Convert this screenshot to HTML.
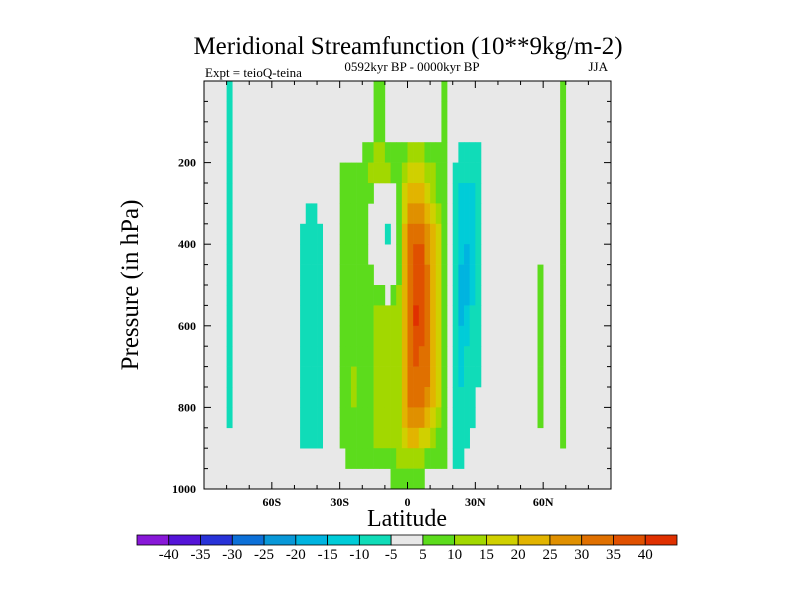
<!DOCTYPE html>
<html><head><meta charset="utf-8"><style>
body{margin:0;background:#fff;}
text{font-family:"Liberation Serif",serif;}
</style></head><body>
<svg id="chart" width="800" height="600" xmlns="http://www.w3.org/2000/svg">
<text x="408" y="54" font-size="25" text-anchor="middle">Meridional Streamfunction (10**9kg/m-2)</text>
<text x="205" y="77" font-size="13">Expt = teioQ-teina</text>
<text x="412" y="71" font-size="13" text-anchor="middle">0592kyr BP - 0000kyr BP</text>
<text x="608" y="71" font-size="13" text-anchor="end">JJA</text>
<rect x="204" y="81" width="407" height="408" fill="#e8e8e8"/>
<g id="cells"></g>
<g id="axes"></g>
<text transform="translate(138,285) rotate(-90)" font-size="25" text-anchor="middle">Pressure (in hPa)</text>
<text x="407" y="526" font-size="24" text-anchor="middle">Latitude</text>
<g id="cbar"></g>
</svg>
<script>
const yTicks=[200,400,600,800,1000];
const xTicks=[-60,-30,0,30,60];
const xTickLabels=["60S","30S","0","30N","60N"];
const levels=[-40,-35,-30,-25,-20,-15,-10,-5,5,10,15,20,25,30,35,40];
const colors=["#8818d8","#5414d8","#2832d8","#0c70d8","#0898d8","#00b4e0","#00ccd8","#10dcb8","#e8e8e8","#5cdc1c","#a2d800","#d0d000","#e2b400","#e09000","#e07000","#e05000","#e03000"];
const colLats=[-78.75,-46.25,-43.75,-41.25,-38.75,-28.75,-26.25,-23.75,-21.25,-18.75,-16.25,-13.75,-11.25,-8.75,-6.25,-3.75,-1.25,1.25,3.75,6.25,8.75,11.25,13.75,16.25,21.25,23.75,26.25,28.75,31.25,58.75,68.75];
// each column: 20 values at pressure cells 0-50,50-100,...,950-1000 hPa
const colVals=[
[-7,-7,-7,-7,-7,-7,-7,-7,-7,-7,-7,-7,-7,-7,-7,-7,-7,0,0,0],
[0,0,0,0,0,0,0,-7,-7,-7,-7,-7,-7,-7,-7,-7,-7,-7,0,0],
[0,0,0,0,0,0,-7,-7,-7,-7,-7,-7,-7,-7,-7,-7,-7,-7,0,0],
[0,0,0,0,0,0,-7,-7,-7,-7,-7,-7,-7,-7,-7,-7,-7,-7,0,0],
[0,0,0,0,0,0,0,-7,-7,-7,-7,-7,-7,-7,-7,-7,-7,-7,0,0],
[0,0,0,0,7,7,7,7,7,7,7,7,7,7,7,7,7,7,0,0],
[0,0,0,0,7,7,7,7,7,7,7,7,7,7,7,7,7,7,7,0],
[0,0,0,0,7,7,7,7,7,7,7,7,7,7,12,12,7,7,7,0],
[0,0,0,0,7,7,7,7,7,7,7,7,7,7,7,7,7,7,7,0],
[0,0,0,7,7,7,7,7,7,7,7,7,7,7,7,7,7,7,7,0],
[0,0,0,7,12,7,0,0,0,7,7,7,7,7,7,7,7,7,7,0],
[7,7,7,12,12,0,0,0,0,0,7,12,12,12,12,12,12,12,7,0],
[7,7,7,12,12,0,0,0,0,0,7,12,12,12,12,12,12,12,7,0],
[0,0,0,7,12,0,0,-7,0,0,0,12,12,12,12,12,12,12,7,0],
[0,0,0,7,7,0,0,0,0,0,7,12,12,12,12,12,12,12,7,7],
[0,0,0,7,7,7,7,7,7,7,12,12,12,12,12,12,12,12,12,7],
[0,0,0,7,12,17,17,22,22,22,22,22,22,22,22,22,22,17,12,7],
[0,0,0,12,17,22,27,32,32,32,32,32,32,32,32,32,27,22,12,7],
[0,0,0,12,17,22,27,32,37,37,37,42,37,37,32,32,27,22,12,7],
[0,0,0,12,17,22,27,32,37,37,37,37,37,32,32,32,27,17,12,7],
[0,0,0,7,12,17,22,27,27,32,32,32,32,32,32,27,22,17,7,0],
[0,0,0,7,12,12,17,22,22,22,22,22,22,22,22,22,17,12,7,0],
[0,0,0,7,7,7,12,17,17,17,17,17,17,17,17,17,12,7,7,0],
[7,7,7,7,7,7,7,7,7,7,7,7,7,7,7,7,7,7,7,0],
[0,0,0,0,-7,-7,-7,-7,-7,-7,-7,-7,-7,-7,-7,-7,-7,-7,-7,0],
[0,0,0,-7,-7,-12,-12,-12,-12,-17,-17,-17,-12,-12,-12,-7,-7,-7,-7,0],
[0,0,0,-7,-7,-12,-12,-12,-17,-17,-17,-12,-12,-7,-7,-7,-7,-7,0,0],
[0,0,0,-7,-7,-12,-12,-12,-12,-12,-12,-7,-7,-7,-7,-7,-7,0,0,0],
[0,0,0,-7,-7,-7,-7,-7,-7,-7,-7,-7,-7,-7,-7,0,0,0,0,0],
[0,0,0,0,0,0,0,0,0,7,7,7,7,7,7,7,7,0,0,0],
[7,7,7,7,7,7,7,7,7,7,7,7,7,7,7,7,7,7,0,0]
];
const NS="http://www.w3.org/2000/svg";
const X0=204,X1=611,Y0=81,Y1=489;
const xs=l=>X0+(l+90)/180*(X1-X0);
const ys=p=>Y0+p/1000*(Y1-Y0);
function colorOf(v){let i=0;while(i<levels.length&&v>=levels[i])i++;if(v>-5&&v<5)return null;return colors[i];}
function mk(tag,attrs,parent){const e=document.createElementNS(NS,tag);for(const k in attrs)e.setAttribute(k,attrs[k]);parent.appendChild(e);return e;}
const cells=document.getElementById('cells');
colLats.forEach((lat,ci)=>{colVals[ci].forEach((v,ri)=>{const c=colorOf(v);if(!c)return;
const r=mk('rect',{x:xs(lat-1.25),y:ys(ri*50),width:xs(lat+1.25)-xs(lat-1.25)+0.3,height:ys(50)-ys(0)+0.3,fill:c},cells);

});});
const ax=document.getElementById('axes');
const fr=mk('rect',{x:X0,y:Y0,width:X1-X0,height:Y1-Y0,fill:'none',stroke:'#000','stroke-width':1},ax);


for(let p=50;p<1000;p+=50){const L=(p%200===0)?7:4;
mk('line',{x1:X0,x2:X0+L,y1:ys(p),y2:ys(p),stroke:'#000'},ax);mk('line',{x1:X1,x2:X1-L,y1:ys(p),y2:ys(p),stroke:'#000'},ax);}
yTicks.forEach(p=>{const t=mk('text',{x:X0-8,y:ys(p)+4,'font-size':12,'font-weight':'bold','text-anchor':'end'},ax);t.textContent=p;

});
for(let l=-80;l<=80;l+=10){const L=(l%30===0)?7:4;
mk('line',{x1:xs(l),x2:xs(l),y1:Y1,y2:Y1-L,stroke:'#000'},ax);mk('line',{x1:xs(l),x2:xs(l),y1:Y0,y2:Y0+L,stroke:'#000'},ax);}
xTicks.forEach((l,i)=>{const t=mk('text',{x:xs(l),y:Y1+17,'font-size':12,'font-weight':'bold','text-anchor':'middle'},ax);t.textContent=xTickLabels[i];

});
const cb=document.getElementById('cbar');const CX=137,CW=540/17,CY=535,CH=10;
colors.forEach((c,i)=>{const r=mk('rect',{x:CX+i*CW,y:CY,width:CW,height:CH,fill:c,stroke:'#000','stroke-width':0.8},cb);

});
levels.forEach((v,i)=>{const t=mk('text',{x:CX+(i+1)*CW,y:CY+24,'font-size':15,'text-anchor':'middle'},cb);t.textContent=v;

});
</script>
</body></html>
